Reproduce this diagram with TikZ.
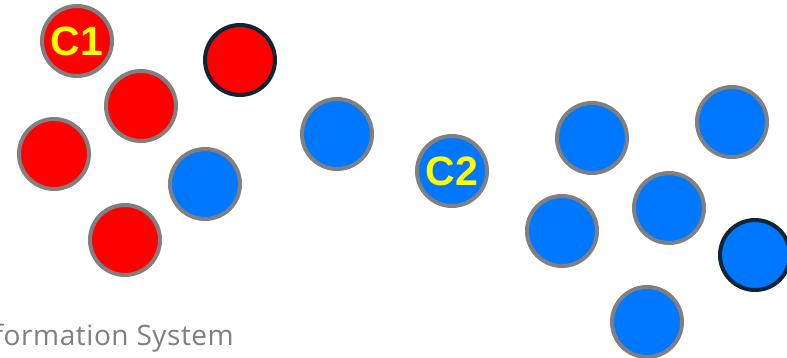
\documentclass[tikz,border=0pt]{standalone}
\usepackage{fontspec}
\setmainfont{Liberation Sans}
\newfontfamily\labelfont[LetterSpace=2]{Open Sans}
\definecolor{dotred}{HTML}{FF0000}
\definecolor{dotblue}{HTML}{0077FF}
\definecolor{rimgray}{HTML}{808080}
\definecolor{rimdark}{HTML}{0D2535}
\definecolor{tagyellow}{HTML}{FFFF00}
\definecolor{captiongray}{HTML}{7F7F7F}
\tikzset{
  dot/.style={circle, minimum size=70pt, inner sep=0pt, line width=4pt, draw=rimgray},
  reddot/.style={dot, fill=dotred},
  bluedot/.style={dot, fill=dotblue},
  darkrim/.style={draw=rimdark},
  tag/.style={text=tagyellow, font=\fontsize{41}{41}\selectfont\bfseries},
  caption/.style={text=captiongray, font=\labelfont\fontsize{28}{28}\selectfont, inner sep=0pt, anchor=base east}
}
\begin{document}
\begin{tikzpicture}[x=1pt, y=-1pt]
  \useasboundingbox (0,0) rectangle (787,358);
  \clip (0,0) rectangle (787,358);
  % red cluster
  \node[reddot] (c1) at (77,41) {};
  \node[tag] at (c1) {C1};
  \node[reddot, darkrim] (r2) at (240,60) {};
  \node[reddot] (r3) at (141,106) {};
  \node[reddot] (r4) at (54,154) {};
  \node[reddot] (r5) at (125,240) {};
  \node[bluedot] (b1) at (205,184) {};
  % middle
  \node[bluedot] (b2) at (337,134) {};
  \node[bluedot] (c2) at (452,171) {};
  \node[tag] at (c2) {C2};
  % blue cluster
  \node[bluedot] (b3) at (592,138) {};
  \node[bluedot] (b4) at (732,122) {};
  \node[bluedot] (b5) at (669,208) {};
  \node[bluedot] (b6) at (562,231) {};
  \node[bluedot, darkrim] (b7) at (755,255) {};
  \node[bluedot] (b8) at (647,322) {};
  % caption
  \node[caption] (cap) at (234,345) {Information System};
\end{tikzpicture}
\end{document}
